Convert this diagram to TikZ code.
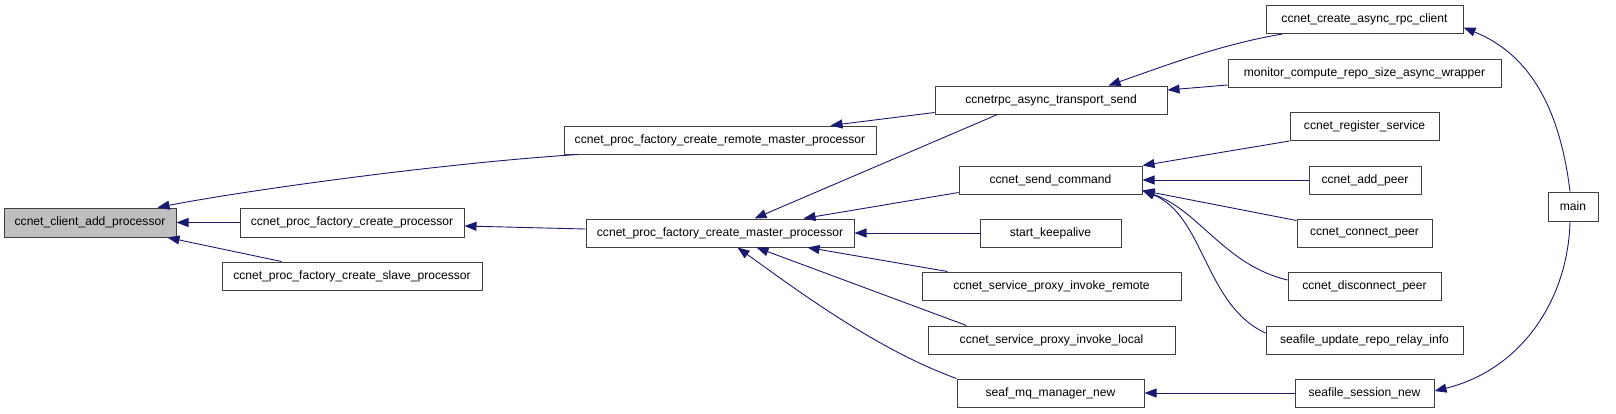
\documentclass[tikz,border=0pt]{standalone}
\usepackage{fontspec}
\setmainfont{Liberation Sans}
\usetikzlibrary{arrows.meta,calc}
\definecolor{edgec}{HTML}{191970}
\definecolor{boxc}{HTML}{404040}
\definecolor{curfill}{HTML}{BFBFBF}
\begin{document}
\begin{tikzpicture}[x=1pt,y=-1pt,
 fn/.style={draw=boxc,line width=1pt,fill=white,minimum height=28pt,inner sep=0pt,font=\fontsize{12.1}{14}\selectfont},
 call/.style={draw=edgec,line width=0.9pt,-{Triangle[length=12pt,width=9pt]}},
]
\useasboundingbox (0,0) rectangle (1616,413);
% nodes
\node[fn,fill=curfill,minimum width=172pt,minimum height=29pt] (client) at (90,222.5) {ccnet\_client\_add\_processor};
\node[fn,minimum width=224pt,minimum height=29pt] (proc) at (352,222.5) {ccnet\_proc\_factory\_create\_processor};
\node[fn,minimum width=260pt] (slave) at (352,276) {ccnet\_proc\_factory\_create\_slave\_processor};
\node[fn,minimum width=312pt] (remote) at (720,140) {ccnet\_proc\_factory\_create\_remote\_master\_processor};
\node[fn,minimum width=268pt] (master) at (720,233) {ccnet\_proc\_factory\_create\_master\_processor};
\node[fn,minimum width=232pt] (transport) at (1051,100) {ccnetrpc\_async\_transport\_send};
\node[fn,minimum width=183pt] (sendcmd) at (1050.5,180) {ccnet\_send\_command};
\node[fn,minimum width=141pt] (keepalive) at (1050.5,233) {start\_keepalive};
\node[fn,minimum width=259pt] (invremote) at (1051.5,286) {ccnet\_service\_proxy\_invoke\_remote};
\node[fn,minimum width=247pt] (invlocal) at (1051.5,340) {ccnet\_service\_proxy\_invoke\_local};
\node[fn,minimum width=187pt] (mq) at (1050.5,393) {seaf\_mq\_manager\_new};
\node[fn,minimum width=197pt] (rpcclient) at (1364.5,19.5) {ccnet\_create\_async\_rpc\_client};
\node[fn,minimum width=273pt] (monitor) at (1364.5,73) {monitor\_compute\_repo\_size\_async\_wrapper};
\node[fn,minimum width=149pt] (register) at (1364.5,126.5) {ccnet\_register\_service};
\node[fn,minimum width=112pt] (addpeer) at (1365,180) {ccnet\_add\_peer};
\node[fn,minimum width=135pt] (connect) at (1364.5,233) {ccnet\_connect\_peer};
\node[fn,minimum width=153pt] (disconnect) at (1364.5,286) {ccnet\_disconnect\_peer};
\node[fn,minimum width=197pt] (relay) at (1364.5,340) {seafile\_update\_repo\_relay\_info};
\node[fn,minimum width=139pt] (session) at (1364.5,393) {seafile\_session\_new};
\node[fn,minimum width=50pt,minimum height=29pt] (main) at (1573,206.5) {main};
% edges
\draw[call] ([xshift=15pt]remote.south west) .. controls +(-129,8) and +(93,-18) .. ([xshift=-19pt]client.north east);
\draw[call] (proc.west) -- (client.east);
\draw[call] ([xshift=60pt]slave.north west) -- ([xshift=-9pt]client.south east);
\draw[call] ([yshift=4pt]master.west) -- ([yshift=-3.5pt]proc.east);
\draw[call] ([yshift=2pt]transport.south west) -- ([xshift=-46pt]remote.north east);
\draw[call] ([xshift=63pt]transport.south west) -- ([xshift=169pt]master.north west);
\draw[call] ([yshift=2pt]sendcmd.south west) -- ([xshift=-51pt]master.north east);
\draw[call] (keepalive.west) -- (master.east);
\draw[call] ([xshift=26pt]invremote.north west) -- ([xshift=-47pt]master.south east);
\draw[call] ([xshift=39pt]invlocal.north west) -- ([xshift=171pt]master.south west);
\draw[call] (mq.north west) .. controls +(-80,-29) and +(60,43) .. ([xshift=152pt]master.south west);
\draw[call] ([xshift=17pt]rpcclient.south west) .. controls +(-60,10) and +(60,-21) .. ([xshift=-59pt]transport.north east);
\draw[call] ([yshift=-12pt]monitor.west) -- ([yshift=10pt]transport.east);
\draw[call] (register.south west) -- (sendcmd.north east);
\draw[call] (addpeer.west) -- (sendcmd.east);
\draw[call] ([yshift=-2pt]connect.north west) -- ([yshift=4pt]sendcmd.south east);
\draw[call] ([yshift=6pt]disconnect.west) .. controls +(-63,-15) and +(57,20) .. ([yshift=4pt]sendcmd.south east);
\draw[call] ([yshift=7pt]relay.west) .. controls +(-61,-28) and +(62,25) .. ([yshift=4pt]sendcmd.south east);
\draw[call] (session.west) -- (mq.east);
\draw[call] ([xshift=-3pt]main.north) .. controls +(-10,-82) and +(67,27) .. ([yshift=-8pt]rpcclient.east);
\draw[call] ([xshift=-3pt]main.south) .. controls +(-2,79) and +(86,-21) .. ([yshift=2pt]session.east);
\end{tikzpicture}
\end{document}
